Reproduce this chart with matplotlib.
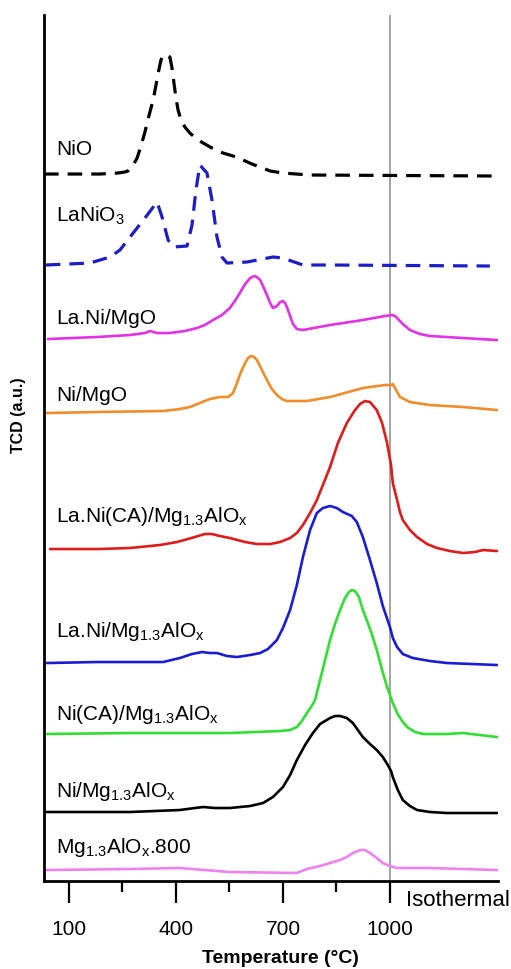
import matplotlib
matplotlib.use('Agg')
import matplotlib.pyplot as plt

plt.rcParams['font.family'] = ['Liberation Sans', 'DejaVu Sans']
plt.rcParams['mathtext.fontset'] = 'custom'
plt.rcParams['mathtext.rm'] = 'Liberation Sans'
plt.rcParams['lines.scale_dashes'] = False

# TPR profiles, temperature (C) vs TCD signal (a.u., stacked as in the paper)
nio_t = [30, 187, 237, 257, 265, 277, 291, 302, 313, 324, 336, 344, 352, 358, 364, 372, 383, 389, 394, 400,
         406, 414, 425, 439, 459, 476, 501, 532, 560, 588, 613, 636, 664, 700, 776, 1300]
nio_y = [707, 707, 708, 709, 710, 714, 723, 735, 749, 765, 781, 796, 811, 821, 826, 826, 824, 813, 799, 783,
         771, 761, 754, 748, 742, 738, 733, 728, 725, 721, 717, 714, 710, 708, 706, 705]

lanio3_t = [35, 159, 215, 243, 280, 313, 347, 361, 378, 392, 431, 445, 456, 467, 487, 501, 515, 529, 543,
            599, 672, 700, 756, 832, 1280]
lanio3_y = [616, 618, 624, 631, 648, 663, 679, 664, 641, 634, 635, 656, 691, 716, 708, 681, 644, 624, 618,
            619, 624, 623, 616, 616, 615]

lanimgo_t = [41, 179, 271, 313, 327, 347, 383, 425, 459, 481, 504, 529, 551, 565, 579, 594, 608, 619, 627,
             636, 644, 655, 664, 672, 683, 692, 700, 706, 711, 720, 728, 739, 756, 832, 924, 986, 1006, 1014,
             1020, 1036, 1056, 1084, 1112, 1205, 1300]
lanimgo_y = [542, 544, 546, 548, 550, 548, 548, 550, 553, 556, 561, 566, 573, 580, 588, 597, 603, 605, 604,
             601, 595, 586, 578, 573, 575, 579, 580, 578, 574, 565, 557, 552, 551, 556, 561, 565, 566, 565,
             563, 557, 551, 547, 545, 543, 541]

nimgo_t = [38, 179, 364, 411, 439, 467, 495, 523, 546, 560, 571, 582, 594, 602, 610, 619, 627, 641, 655,
           669, 683, 697, 711, 767, 832, 924, 986, 1006, 1008, 1014, 1028, 1056, 1112, 1205, 1300]
nimgo_y = [468, 469, 470, 472, 474, 478, 482, 484, 484, 488, 498, 509, 518, 523, 525, 524, 521, 511, 501,
           492, 486, 482, 480, 480, 484, 493, 496, 496, 497, 493, 484, 479, 476, 474, 471]

laca_t = [47, 187, 271, 355, 403, 453, 481, 501, 523, 551, 594, 627, 664, 692, 720, 739, 756, 776, 795, 812,
          832, 854, 879, 902, 916, 930, 944, 963, 978, 992, 1003, 1008, 1020, 1028, 1036, 1056, 1076, 1104,
          1132, 1168, 1205, 1238, 1261, 1300]
laca_y = [332, 332, 333, 336, 339, 344, 347, 347, 345, 343, 339, 337, 337, 339, 343, 348, 356, 368, 381, 396,
          414, 438, 458, 471, 477, 480, 479, 471, 458, 438, 416, 398, 381, 369, 361, 351, 344, 337,
          333, 330, 328, 329, 331, 330]

lani_t = [38, 179, 364, 411, 445, 473, 495, 515, 543, 571, 608, 636, 658, 683, 700, 720, 739, 756, 776, 795,
          812, 832, 851, 868, 893, 907, 924, 944, 963, 980, 1000, 1008, 1020, 1036, 1064, 1112, 1160, 1300]
lani_y = [218, 219, 219, 223, 227, 229, 228, 228, 225, 224, 226, 228, 232, 241, 253, 271, 296, 324, 351, 368,
          373, 375, 373, 369, 365, 359, 344, 321, 298, 275, 254, 243, 234, 227, 223, 220, 218, 216]

nica_t = [38, 271, 392, 551, 692, 720, 739, 753, 767, 779, 790, 804, 818, 832, 846, 860, 874, 885, 893, 902,
          913, 924, 935, 950, 963, 978, 992, 1000, 1008, 1020, 1034, 1048, 1070, 1093, 1160, 1205, 1300]
nica_y = [147, 148, 148, 148, 150, 151, 154, 160, 168, 174, 181, 201, 221, 241, 257, 271, 283, 289, 291, 290,
          284, 271, 261, 246, 231, 211, 194, 186, 178, 168, 160, 154, 149, 147, 147, 148, 144]

ni_t = [38, 271, 411, 453, 476, 509, 551, 608, 644, 672, 700, 720, 739, 762, 784, 804, 832, 846, 860, 879,
        896, 910, 924, 944, 963, 980, 994, 1003, 1008, 1022, 1036, 1056, 1076, 1112, 1160, 1300]
ni_y = [69, 69, 71, 73, 74, 73, 73, 75, 78, 84, 94, 106, 121, 136, 148, 157, 163, 165, 165, 163,
        158, 151, 144, 137, 131, 124, 116, 110, 104, 91, 81, 75, 71, 69, 68, 68]

mg_t = [38, 271, 411, 551, 739, 767, 804, 832, 860, 879, 896, 916, 930, 944, 963, 980, 1000, 1020, 1112, 1300]
mg_y = [11, 12, 13, 9, 8, 12, 15, 18, 21, 24, 28, 31, 31, 28, 23, 18, 15, 13, 13, 11]

sub13 = r'$_{\mathregular{1.3}}$'
subx = r'$_{\mathregular{x}}$'
labels = ['NiO', r'LaNiO$_{\mathregular{3}}$', 'La.Ni/MgO', 'Ni/MgO',
          'La.Ni(CA)/Mg' + sub13 + 'AlO' + subx,
          'La.Ni/Mg' + sub13 + 'AlO' + subx,
          'Ni(CA)/Mg' + sub13 + 'AlO' + subx,
          'Ni/Mg' + sub13 + 'AlO' + subx,
          'Mg' + sub13 + 'AlO' + subx + '.800']
label_y = [726, 660, 557, 480, 359, 244, 161, 84, 28]

fig = plt.figure(figsize=(5.11, 9.69), dpi=100)
ax = fig.add_axes([0.0861, 0.0908, 0.8885, 0.8937])

ax.axvline(1000, color='#8c8c8c', lw=1.1, zorder=1)

kw = dict(lw=1.9, solid_joinstyle='round', solid_capstyle='round')
ax.plot(nio_t, nio_y, color='black', lw=2.3, dashes=(10.5, 6.5))
ax.plot(lanio3_t, lanio3_y, color='#1c1cc8', lw=2.3, dashes=(10.5, 6.5))
ax.plot(lanimgo_t, lanimgo_y, color='#e332e3', **kw)
ax.plot(nimgo_t, nimgo_y, color='#f08c2a', **kw)
ax.plot(laca_t, laca_y, color='#dd1c1c', **kw)
ax.plot(lani_t, lani_y, color='#1c1cd2', **kw)
ax.plot(nica_t, nica_y, color='#33dd33', **kw)
ax.plot(ni_t, ni_y, color='black', **kw)
ax.plot(mg_t, mg_y, color='#ee82ee', **kw)

for lab, yy in zip(labels, label_y):
    ax.text(63, yy, lab, fontsize=15, va='baseline', ha='left')

ax.set_xlim(30, 1303)
ax.set_ylim(0, 866)
ax.spines['top'].set_visible(False)
ax.spines['right'].set_visible(False)
ax.spines['left'].set_linewidth(2)
ax.spines['bottom'].set_linewidth(2)
ax.set_yticks([])
ax.set_xticks([100, 400, 700, 1000])
ax.set_xticks([250, 550, 850], minor=True)
ax.tick_params(axis='x', which='major', length=16, width=1.6, labelsize=15, pad=12)
ax.tick_params(axis='x', which='minor', length=8, width=1.6)

ax.set_xlabel('Temperature (°C)', fontsize=14, fontweight='bold')
ax.xaxis.set_label_coords(0.52, -0.08)
ax.set_ylabel('TCD (a.u.)', fontsize=11.5, fontweight='bold')
ax.yaxis.set_label_coords(-0.04, 0.538)

fig.text(406 / 511, 1 - 900 / 969, 'Isothermal', fontsize=16, va='center', ha='left')

fig.savefig('out.png', dpi=100)
